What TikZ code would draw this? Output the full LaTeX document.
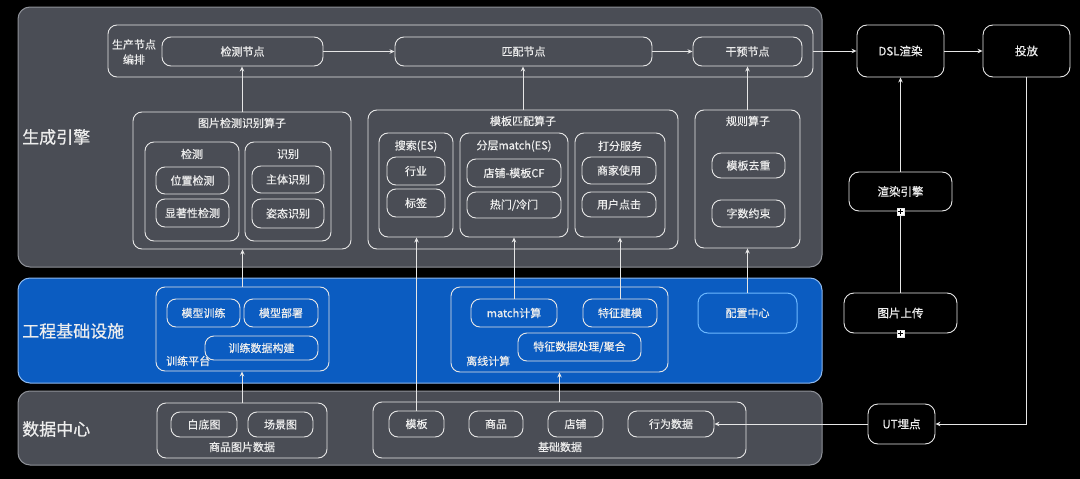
\documentclass[tikz,border=0pt]{standalone}
\usepackage{fontspec}
\setmainfont{Noto Sans CJK SC}[FakeBold=0.6]
\usetikzlibrary{arrows.meta}
\definecolor{panel}{HTML}{4A4D55}
\definecolor{panelb}{HTML}{8E9198}
\definecolor{bluep}{HTML}{0B5CC1}
\definecolor{blueb}{HTML}{8DB8EE}
\definecolor{ln}{HTML}{E6E6E6}
\definecolor{tx}{HTML}{EDEDED}
\definecolor{lb}{HTML}{6CB8FF}
\newcommand\mybox[7][]{\node[#1, inner sep=0pt, minimum width={(#5-#3)*1pt}, minimum height={(#6-#4)*1pt}] (#2) at ({(#3+#5)/2},{(#4+#6)/2}) {#7};}
\tikzset{
  panelbox/.style={draw=panelb, fill=panel, rounded corners=12pt, line width=1pt},
  bluebox/.style={draw=blueb, fill=bluep, rounded corners=12pt, line width=1pt},
  cont/.style={draw=ln, rounded corners=9pt, line width=0.9pt},
  item/.style={draw=ln, rounded corners=9pt, line width=0.9pt, text=tx, font=\fontsize{11}{13}\selectfont},
  itemlb/.style={draw=lb, rounded corners=10pt, line width=1pt, text=tx, font=\fontsize{11}{13}\selectfont},
  blackbox/.style={draw=ln, fill=black, rounded corners=10pt, line width=0.9pt, text=tx, font=\fontsize{11.5}{13}\selectfont},
  lbl/.style={inner sep=0pt, text=tx, font=\fontsize{11}{13}\selectfont},
  big/.style={inner sep=0pt, text=tx, font=\fontsize{17}{20}\selectfont},
  arr/.style={draw=ln, line width=0.9pt, -{Stealth[length=5pt,width=4.5pt]}},
  plain/.style={draw=ln, line width=0.9pt},
  plusmark/.style={draw=ln, fill=white, minimum size=7pt, inner sep=0pt},
}
\begin{document}
\begin{tikzpicture}[x=1pt,y=-1pt]
\useasboundingbox (0,0) rectangle (1080,479);
\fill[black] (0,0) rectangle (1080,479);
% panels
\mybox[panelbox]{pgen}{18}{7}{822}{267}{}
\mybox[bluebox]{pinf}{18}{278}{822}{383}{}
\mybox[panelbox]{pdata}{18}{391}{822}{465}{}
\node[big, anchor=west] (lgen) at (22,137) {生成引擎};
\node[big, anchor=west] (linf) at (22,331) {工程基础设施};
\node[big, anchor=west] (ldata) at (22,429) {数据中心};
% orchestration
\mybox[cont]{orch}{108}{25}{813}{77}{}
\node[lbl, align=center, font=\fontsize{11}{15}\selectfont] (lorch) at (134,52) {生产节点\\编排};
\mybox[item]{njc}{162}{37}{323}{66}{检测节点}
\mybox[item]{npp}{395}{37}{652}{66}{匹配节点}
\mybox[item]{ngy}{693}{37}{802}{66}{干预节点}
% right column
\mybox[blackbox]{dsl}{857}{25}{944}{77}{DSL渲染}
\mybox[blackbox]{tf}{983}{25}{1070}{77}{投放}
\mybox[blackbox]{xr}{849}{172}{952}{211}{渲染引擎}
\mybox[blackbox]{up}{844}{293}{957}{333}{图片上传}
\mybox[blackbox]{ut}{868}{404}{935}{444}{UT埋点}
% image operators
\mybox[cont]{opimg}{133}{112}{351}{249}{}
\node[lbl] (topimg) at (242,123) {图片检测识别算子};
\mybox[cont]{cjc}{145}{142}{239}{241}{}
\node[lbl] (tcjc) at (192,154) {检测};
\mybox[item]{wz}{156}{167}{229}{194}{位置检测}
\mybox[item]{xz}{156}{199}{229}{227}{显著性检测}
\mybox[cont]{csb}{245}{142}{331}{241}{}
\node[lbl] (tcsb) at (288,154) {识别};
\mybox[item]{zt}{252}{166}{324}{193}{主体识别}
\mybox[item]{zs}{252}{199}{324}{228}{姿态识别}
% template operators
\mybox[cont]{optpl}{368}{110}{678}{249}{}
\node[lbl] (toptpl) at (523,121) {模板匹配算子};
\mybox[cont]{css}{379}{133}{453}{237}{}
\node[lbl] (tcss) at (416,146) {搜索(ES)};
\mybox[item]{hy}{387}{157}{445}{185}{行业}
\mybox[item]{bq}{387}{189}{445}{217}{标签}
\mybox[cont]{cfc}{460}{133}{568}{237}{}
\node[lbl] (tcfc) at (514,146) {分层match(ES)};
\mybox[item]{dp}{467}{159}{561}{187}{店铺-模板CF}
\mybox[item]{rm}{467}{192}{561}{218}{热门/冷门}
\mybox[cont]{cdf}{575}{133}{665}{237}{}
\node[lbl] (tcdf) at (620,146) {打分服务};
\mybox[item]{sj}{582}{157}{656}{184}{商家使用}
\mybox[item]{yh}{582}{192}{656}{217}{用户点击}
% rule operators
\mybox[cont]{opgz}{695}{110}{800}{248}{}
\node[lbl] (topgz) at (748,121) {规则算子};
\mybox[item]{qc}{712}{153}{785}{178}{模板去重}
\mybox[item]{zsy}{712}{200}{785}{227}{字数约束}
% infrastructure
\mybox[cont]{xlpt}{156}{287}{329}{371}{}
\node[lbl, anchor=west] (txlpt) at (166,361) {训练平台};
\mybox[item]{mx}{167}{299}{240}{327}{模型训练}
\mybox[item]{bs}{244}{299}{318}{327}{模型部署}
\mybox[item]{gj}{205}{336}{318}{360}{训练数据构建}
\mybox[cont]{lxjs}{451}{287}{668}{372}{}
\node[lbl, anchor=west] (tlxjs) at (466,361) {离线计算};
\mybox[item]{mjs}{471}{299}{557}{327}{match计算}
\mybox[item]{tzjm}{583}{299}{657}{327}{特征建模}
\mybox[item]{tzcl}{518}{333}{641}{361}{特征数据处理/聚合}
\mybox[itemlb]{pz}{698}{293}{797}{333}{配置中心}
% data
\mybox[cont]{spt}{157}{403}{327}{458}{}
\node[lbl] (tspt) at (242,447) {商品图片数据};
\mybox[item]{bd}{171}{412}{237}{437}{白底图}
\mybox[item]{cj}{248}{412}{313}{437}{场景图}
\mybox[cont]{jcsj}{373}{402}{746}{458}{}
\node[lbl] (tjcsj) at (560,447) {基础数据};
\mybox[item]{mb}{389}{411}{444}{437}{模板}
\mybox[item]{sp}{469}{411}{523}{437}{商品}
\mybox[item]{dpu}{548}{411}{603}{437}{店铺}
\mybox[item]{xw}{628}{411}{714}{437}{行为数据}
% connectors
\draw[arr] (njc) -- (npp);
\draw[arr] (npp) -- (ngy);
\draw[arr] (orch.east) -- (dsl.west);
\draw[arr] (dsl) -- (tf);
\draw[arr] (tf.south) |- (ut.east);
\draw[arr] (ut.west) -- (xw.east);
\draw[arr] (xr.north) -- (dsl.south);
\draw[plain] (up.north) -- (xr.south);
\draw[arr] (opimg.north) -- (opimg.north |- njc.south);
\draw[arr] (optpl.north) -- (optpl.north |- npp.south);
\draw[arr] (opgz.north) -- (opgz.north |- ngy.south);
\draw[arr] (xlpt.north) -- (xlpt.north |- opimg.south);
\draw[arr] (spt.north) -- (spt.north |- xlpt.south);
\draw[arr] (mjs.north) -- (mjs.north |- cfc.south);
\draw[arr] (tzjm.north) -- (tzjm.north |- cdf.south);
\draw[arr] (mb.north) -- (mb.north |- css.south);
\draw[arr] (jcsj.north) -- (jcsj.north |- lxjs.south);
\draw[arr] (pz.north) -- (pz.north |- opgz.south);
% collapse markers
\node[plusmark] (m1) at (xr.south) {};
\draw[black, line width=0.8pt] ([xshift=-2.5pt]m1.center) -- ([xshift=2.5pt]m1.center) ([yshift=-2.5pt]m1.center) -- ([yshift=2.5pt]m1.center);
\node[plusmark] (m2) at (up.south) {};
\draw[black, line width=0.8pt] ([xshift=-2.5pt]m2.center) -- ([xshift=2.5pt]m2.center) ([yshift=-2.5pt]m2.center) -- ([yshift=2.5pt]m2.center);
\end{tikzpicture}
\end{document}
